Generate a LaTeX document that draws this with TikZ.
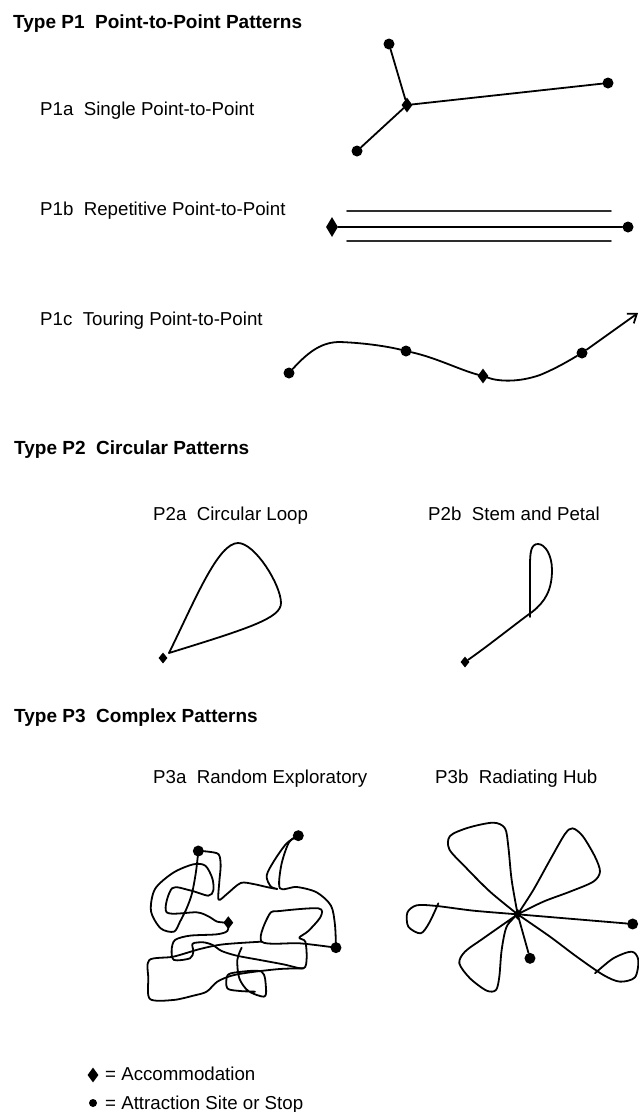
\documentclass[tikz,border=0pt]{standalone}
\usepackage{fontspec}
\setmainfont{Liberation Sans}
\usetikzlibrary{arrows.meta,shapes.geometric}
\definecolor{trackgray}{RGB}{45,45,45}

\begin{document}
\begin{tikzpicture}[x=1pt,y=-1pt,line cap=round,line join=round,
 dot/.style={circle,fill,inner sep=0pt,minimum size=11pt},
 acc/.style={diamond,fill,inner sep=0pt,minimum width=11pt,minimum height=15pt},
 smallacc/.style={acc,minimum width=9pt,minimum height=11pt},
 head/.style={anchor=base west,inner sep=0pt,font=\bfseries\fontsize{19}{22}\selectfont},
 lbl/.style={anchor=base west,inner sep=0pt,font=\fontsize{18.7}{22}\selectfont},
 track/.style={line width=1.8pt}]
\useasboundingbox (0,0) rectangle (639,1112);
\node[head] (h1) at (13,28) {Type P1~~Point-to-Point Patterns};
\node[lbl] (l1a) at (40,115) {P1a~~Single Point-to-Point};
\node[lbl] (l1b) at (40,215) {P1b~~Repetitive Point-to-Point};
\node[lbl] (l1c) at (40,325) {P1c~~Touring Point-to-Point};
\node[head] (h2) at (14,454) {Type P2~~Circular Patterns};
\node[lbl] (l2a) at (153,520) {P2a~~Circular Loop};
\node[lbl] (l2b) at (428,520) {P2b~~Stem and Petal};
\node[head] (h3) at (14,722) {Type P3~~Complex Patterns};
\node[lbl] (l3a) at (153,783) {P3a~~Random Exploratory};
\node[lbl] (l3b) at (435,783) {P3b~~Radiating Hub};
% P1a
\node[dot] (a1) at (389,44) {};
\node[dot] (a2) at (608,83) {};
\node[dot] (a3) at (357,151) {};
\node[acc] (ah) at (407,105) {};
\draw[track] (ah) -- (a1) (ah) -- (a2) (ah) -- (a3);
% P1b
\node[acc,minimum width=12pt,minimum height=20pt] (bh) at (332,227) {};
\node[dot] (b1) at (628,227) {};
\draw[track] (bh) -- (b1);
\draw[track,trackgray] (347,211) -- (611,211) (347,241) -- (611,241);
% P1c
\node[dot] (c1) at (289,373) {};
\node[dot] (c2) at (406,351) {};
\node[acc] (ch) at (483,376) {};
\node[dot] (c3) at (582,353) {};
\coordinate (cend) at (638,313);
\draw[track] (c1) .. controls (310,350) and (323,342) .. (340,342)
 .. controls (367,343) and (390,347) .. (c2)
 .. controls (437,358) and (460,370) .. (ch)
 .. controls (500,382) and (520,382) .. (540,375)
 .. controls (557,368) and (570,360) .. (c3);
\draw[track,-{Straight Barb[length=8pt,width=12pt]}] (c3) -- (cend);
% P2a, P2b
\node[smallacc] (p2a) at (163,658) {};
\coordinate (p2av) at (169,653);
\draw[track] (p2av) .. controls (195,600) and (218,543) .. (238,543)
 .. controls (255,543) and (281,585) .. (281,603)
 .. controls (281,618) and (250,628) .. (p2av);
\node[smallacc] (p2b) at (465,662) {};
\coordinate (p2bx) at (530,617);
\draw[track] (p2b) .. controls (488,646) and (518,622) .. (532,612)
 .. controls (545,602) and (552,590) .. (552,570)
 .. controls (552,555) and (545,544) .. (538,544)
 .. controls (531,544) and (530,552) .. (530,566) -- (p2bx);
% P3a
\begin{scope}[shift={(140,825)},scale=0.3333]
\node[dot] (pA) at (175,78) {};
\node[dot] (pB) at (475,32) {};
\node[dot] (pC) at (588,368) {};
\node[acc,minimum width=10pt,minimum height=13pt] (pD) at (265,293) {};
\draw[track] plot[smooth,tension=0.5] coordinates {(pC) (585,300) (573,242) (530,202)
 (470,186) (420,190) (424,120) (447,52) (pB)};
\draw[track] plot[smooth,tension=0.5] coordinates {(pB) (440,55) (402,108) (380,152)
 (392,184) (412,192) (380,186) (340,177) (302,174) (262,206) (236,224) (238,170)
 (242,122) (236,88) (205,80) (pA)};
\draw[track] plot[smooth,tension=0.5] coordinates {(pA) (168,140) (156,205) (140,250)
 (120,290) (102,320) (62,310) (33,258) (45,192) (100,143) (160,118) (196,122)
 (217,160) (220,196) (205,212) (150,196) (96,190) (80,262) (170,262) (205,274)
 (232,290) (pD)};
\draw[track] plot[smooth,tension=0.5] coordinates {(pD) (262,318) (230,328) (150,332)
 (105,345) (95,375) (102,405) (150,400) (160,380) (158,356) (190,352) (218,360)
 (245,378) (290,392) (360,405) (430,418) (490,430) (500,400) (496,350) (478,338)
 (505,318) (542,275) (535,250) (420,258) (388,268) (365,350) (480,355) (pC)};
\draw[track] plot[smooth,tension=0.5] coordinates {(365,350) (250,358) (180,372)
 (100,395) (28,405) (25,460) (30,522) (100,525) (160,512) (200,500) (232,470)
 (275,452) (330,442) (420,432) (490,430)};
\draw[track] plot[smooth,tension=0.5] coordinates {(305,368) (292,405) (298,460)
 (325,498) (372,515) (378,490) (365,440) (290,442) (262,452) (262,490) (300,498)
 (345,500)};
\end{scope}
% P3b
\begin{scope}[shift={(390,760)},scale=0.3333]
\node[smallacc] (hub) at (383,463) {};
\node[dot] (r1) at (728,492) {};
\node[dot] (r2) at (420,595) {};
\draw[track] (hub) -- (r1) (hub) -- (r2);
\draw[track] plot[smooth,tension=0.5] coordinates {(hub) (300,395) (225,320) (178,268)
 (180,228) (235,203) (310,188) (345,205) (355,260) (365,360) (hub)};
\draw[track] plot[smooth,tension=0.5] coordinates {(hub) (430,390) (480,300) (525,222)
 (548,205) (578,228) (615,290) (630,335) (610,365) (540,395) (460,425) (hub)};
\draw[track] plot[smooth,tension=0.5] coordinates {(hub) (250,452) (140,438) (80,436)
 (52,458) (55,500) (92,520) (118,488) (145,430)};
\draw[track] plot[smooth,tension=0.5] coordinates {(hub) (350,500) (335,570) (328,650)
 (318,690) (290,692) (240,655) (208,610) (225,575) (280,535) (hub)};
\draw[track] plot[smooth,tension=0.5] coordinates {(hub) (480,530) (560,590) (640,645)
 (690,665) (735,652) (745,600) (725,575) (670,595) (615,640)};
\end{scope}
% legend
\node[acc] (kacc) at (93,1075) {};
\node[lbl] (tacc) at (105,1080) {= Accommodation};
\node[dot,minimum size=8pt] (katt) at (93,1103) {};
\node[lbl] (tatt) at (105,1109) {= Attraction Site or Stop};
\end{tikzpicture}
\end{document}
